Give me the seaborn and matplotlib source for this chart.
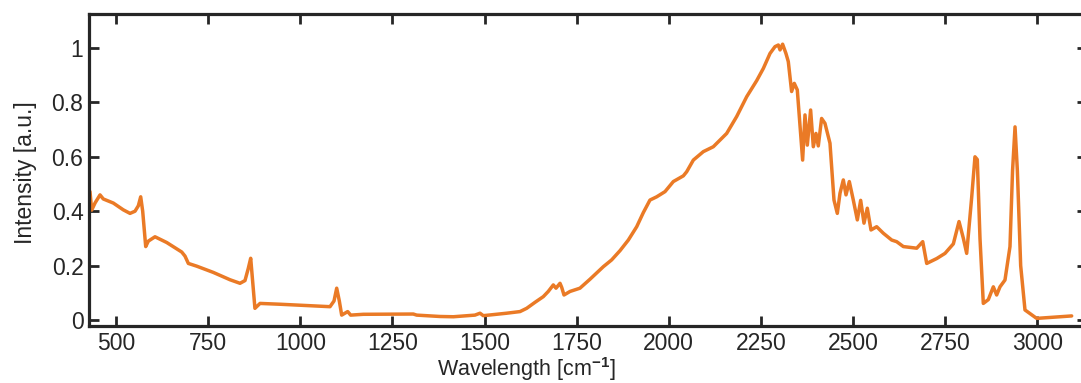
import matplotlib
matplotlib.use("Agg")
import matplotlib.pyplot as plt
import seaborn as sns
import pandas as pd

wavenumber = [429.4, 434, 443, 456.6, 465.5, 492.7, 519.8, 538, 551.6, 560.6, 567, 572.4, 580.6, 587.7,
              605.8, 637.5, 678.3, 687.2, 696.3, 719, 764, 809.4, 836.5, 850, 859, 865.5, 871, 877,
              890.8, 945, 1035.4, 1080.7, 1091.6, 1098.9, 1106, 1112.4, 1121.4, 1128.7, 1136.8, 1171,
              1306.8, 1316, 1379, 1415.4, 1474, 1487.8, 1496.7, 1560, 1596.3, 1614.4, 1637, 1659.6,
              1673, 1686.7, 1694, 1704.9, 1709.5, 1715.7, 1732, 1759, 1786.3, 1822.4, 1845, 1867.7,
              1890.3, 1913, 1931, 1949, 1967.3, 1989.8, 2012.4, 2039.6, 2048.6, 2066.7, 2093.8, 2120.9,
              2157.2, 2184.3, 2211.5, 2238.6, 2256.7, 2274.8, 2288.3, 2297.4, 2302, 2309, 2318, 2324.4,
              2333.4, 2340.6, 2348.8, 2363.3, 2369.7, 2376, 2385, 2392.3, 2399.5, 2405.8, 2414.8, 2423.9,
              2437.5, 2448.4, 2457.4, 2464.7, 2473.7, 2481, 2490, 2500.8, 2511.7, 2520.8, 2529.8, 2538.8,
              2548.8, 2564.2, 2582.3, 2605, 2618.5, 2636.6, 2672.9, 2689.2, 2700, 2727.2, 2749.7, 2772.3,
              2787.7, 2799.5, 2808.5, 2822, 2831, 2837.3, 2844.6, 2853.6, 2867.2, 2880.8, 2889.8, 2898.9,
              2912.4, 2926, 2933, 2939.7, 2946, 2955, 2966.7, 2998.4, 3093.4]
intensity = [0.472, 0.404, 0.43, 0.46, 0.445, 0.43, 0.405, 0.392, 0.40, 0.42, 0.453, 0.40, 0.27, 0.29,
             0.306, 0.285, 0.25, 0.235, 0.208, 0.198, 0.175, 0.148, 0.135, 0.145, 0.19, 0.227, 0.14, 0.043,
             0.061, 0.058, 0.052, 0.049, 0.07, 0.117, 0.07, 0.018, 0.025, 0.031, 0.018, 0.021,
             0.022, 0.018, 0.013, 0.012, 0.018, 0.025, 0.016, 0.025, 0.031, 0.043, 0.065, 0.086,
             0.105, 0.129, 0.117, 0.135, 0.12, 0.092, 0.105, 0.117, 0.15, 0.196, 0.221, 0.255,
             0.294, 0.343, 0.395, 0.441, 0.453, 0.472, 0.509, 0.53, 0.545, 0.588, 0.619, 0.637,
             0.686, 0.748, 0.821, 0.88, 0.925, 0.98, 1.005, 1.011, 0.993, 1.014, 0.98, 0.95,
             0.84, 0.87, 0.846, 0.588, 0.754, 0.643, 0.772, 0.637, 0.686, 0.64, 0.741, 0.723,
             0.65, 0.441, 0.392, 0.466, 0.515, 0.46, 0.509, 0.441, 0.368, 0.44, 0.356, 0.411,
             0.331, 0.343, 0.319, 0.294, 0.288, 0.27, 0.264, 0.288, 0.208, 0.226, 0.245, 0.28,
             0.362, 0.30, 0.245, 0.45, 0.60, 0.59, 0.3, 0.061, 0.075, 0.122, 0.092, 0.122,
             0.147, 0.27, 0.55, 0.71, 0.55, 0.2, 0.037, 0.006, 0.015]

x_ticks = [500, 750, 1000, 1250, 1500, 1750, 2000, 2250, 2500, 2750, 3000]
y_ticks = [0, 0.2, 0.4, 0.6, 0.8, 1.0]
y_tick_labels = ["0", "0.2", "0.4", "0.6", "0.8", "1"]

sns.set_style("ticks")
plt.rcParams["font.family"] = ["Liberation Sans", "DejaVu Sans"]
plt.rcParams["mathtext.fontset"] = "custom"
plt.rcParams["mathtext.rm"] = "Liberation Sans"
plt.rcParams["mathtext.bf"] = "Liberation Sans:bold"

df = pd.DataFrame({"Wavenumber": wavenumber, "Intensity": intensity})

fig = plt.figure(figsize=(10.81, 3.83), dpi=100)
ax = fig.add_axes([89 / 1081, 1 - 326 / 383, (1087 - 89) / 1081, (326 - 14) / 383])
sns.lineplot(data=df, x="Wavenumber", y="Intensity", ax=ax, color="#EA7A26",
             linewidth=2.5, estimator=None, sort=False)
for ln in ax.get_lines():
    ln.set_solid_joinstyle("round")

ax.set_xlim(426.7, 3135)
ax.set_ylim(-0.022, 1.125)
ax.set_xticks(x_ticks)
ax.set_xticklabels([str(t) for t in x_ticks])
ax.set_yticks(y_ticks)
ax.set_yticklabels(y_tick_labels)

dark = "#262626"
for s in ax.spines.values():
    s.set_linewidth(2.3)
    s.set_color(dark)
    s.set_visible(True)
ax.tick_params(direction="in", length=7, width=2, top=True, right=True,
               labelsize=16.5, colors=dark, pad=4)

ax.set_xlabel(r"Wavelength [cm$^{\mathbf{-1}}$]", fontsize=15.5, color=dark)
ax.set_ylabel("Intensity [a.u.]", fontsize=16.5, color=dark)
ax.xaxis.set_label_coords(0.438, -0.094)
ax.yaxis.set_label_coords(-0.052, 0.49)

fig.savefig("out.png", dpi=100)
